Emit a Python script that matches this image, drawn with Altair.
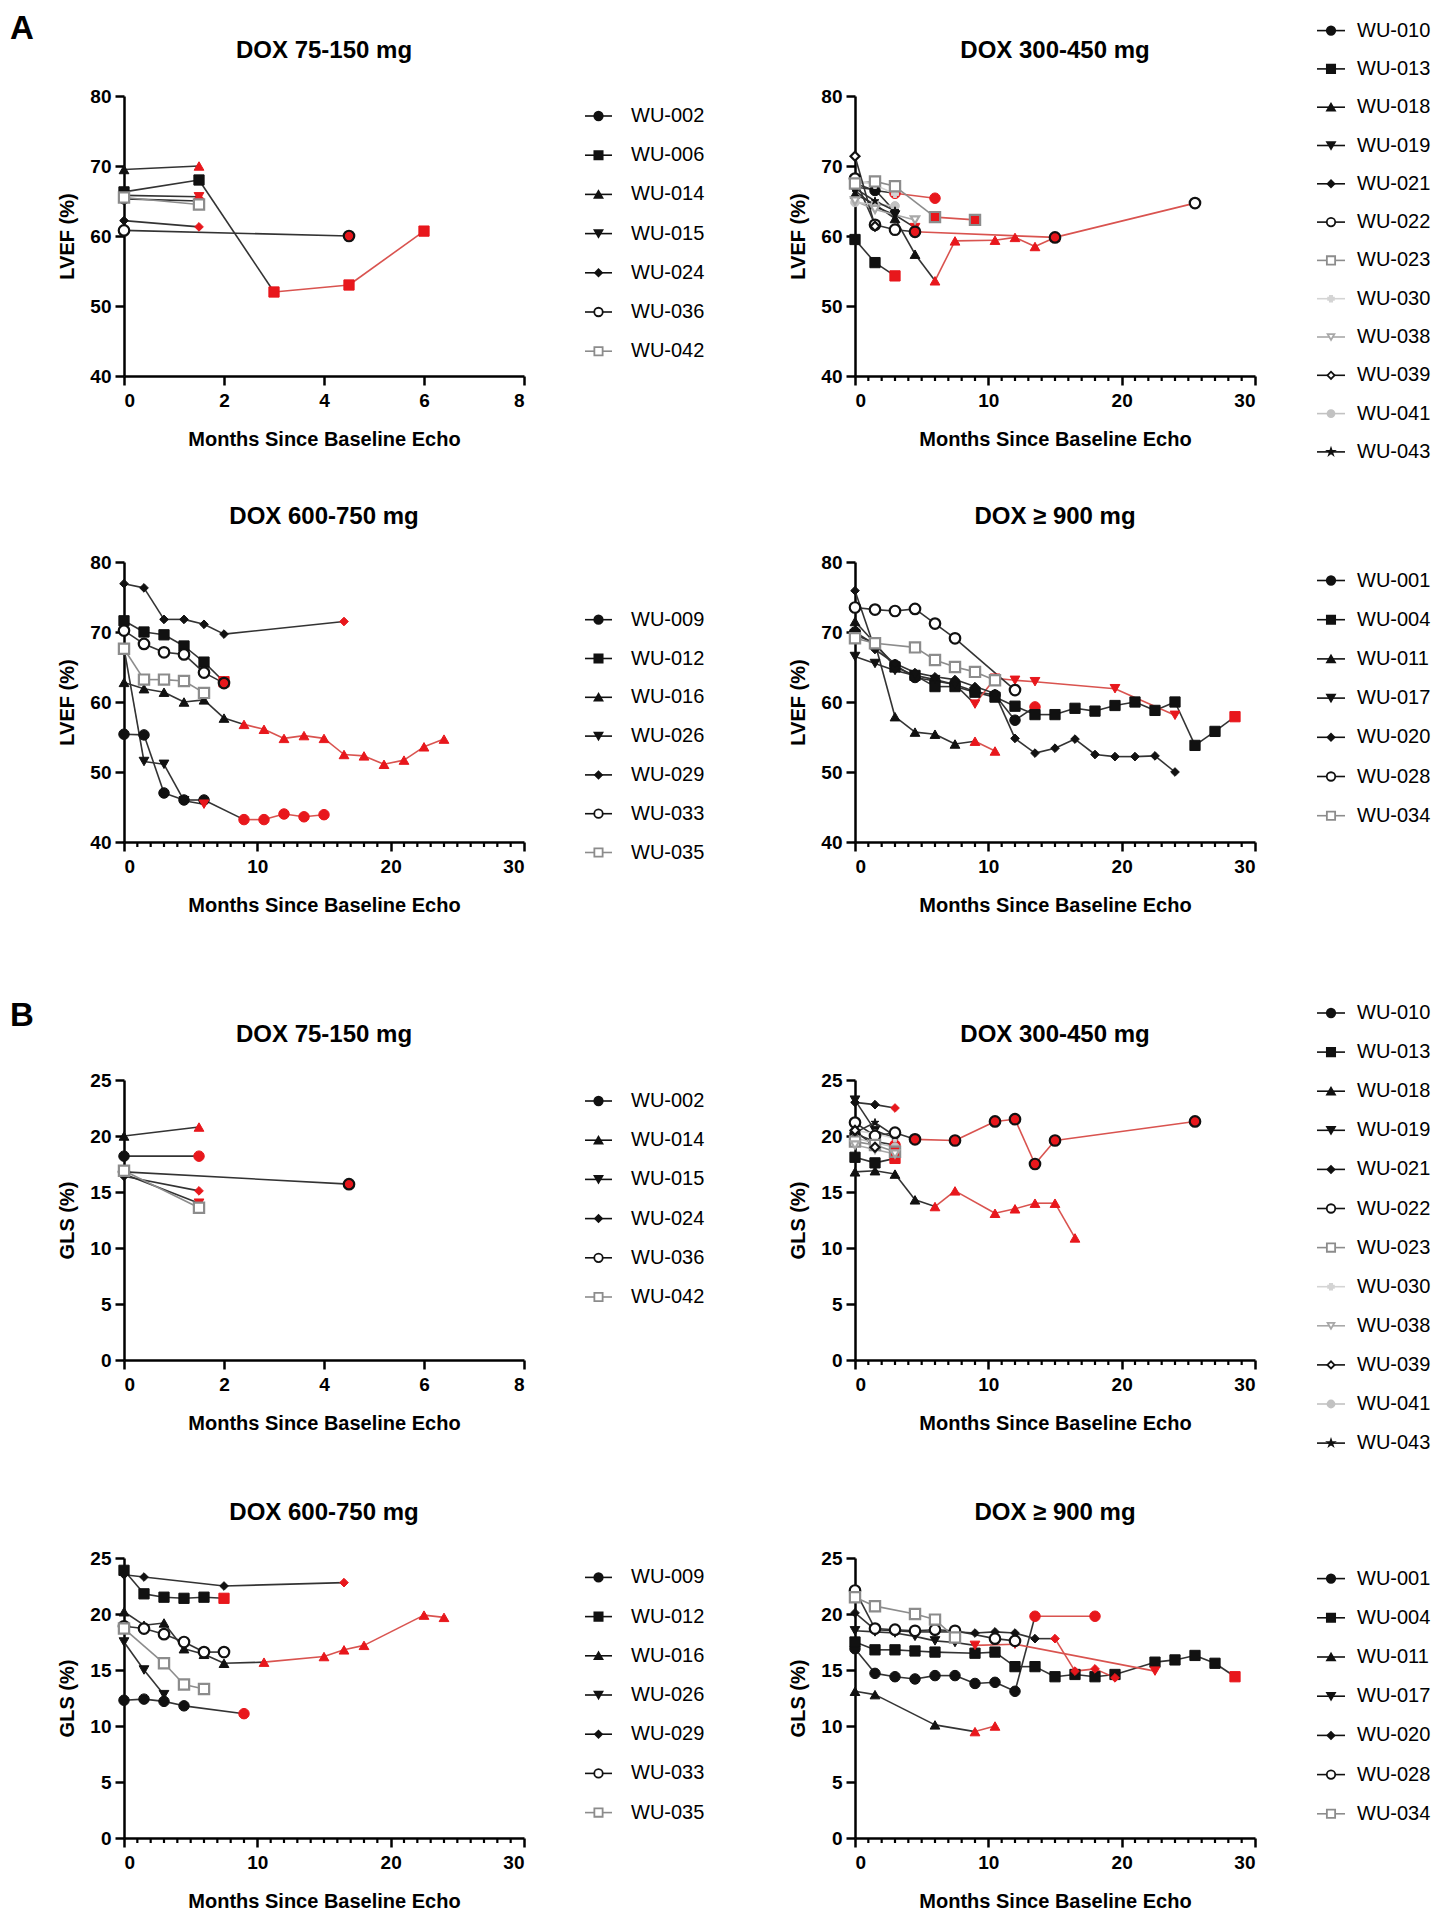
import altair as alt
import pandas as pd

FONT = "Liberation Sans"
RED = "#e8171c"
RED_LINE = "#d9534f"
W, H = 400, 280
STAR_PATH = ("M0,-1L0.225,-0.309L0.951,-0.309L0.363,0.118L0.588,0.809L0,0.382"
             "L-0.588,0.809L-0.363,0.118L-0.951,-0.309L-0.225,-0.309Z")

# ---------------- data: subject -> (months, value, after-toxicity flag) ----------------
A1_LVEF = {
    "WU-002": ([0, 1.5], [65.3, 65.0], [0, 1]),
    "WU-006": ([0, 1.5, 3, 4.5, 6], [66.3, 68.0, 52.0, 53.0, 60.7], [0, 0, 1, 1, 1]),
    "WU-014": ([0, 1.5], [69.5, 70.0], [0, 1]),
    "WU-015": ([0, 1.5], [65.8, 65.6], [0, 1]),
    "WU-024": ([0, 1.5], [62.2, 61.3], [0, 1]),
    "WU-036": ([0, 4.5], [60.8, 60.0], [0, 1]),
    "WU-042": ([0, 1.5], [65.5, 64.5], [0, 0]),
}
A2_LVEF = {
    "WU-010": ([0, 1.5, 3, 6], [67.5, 66.5, 66.1, 65.4], [0, 0, 1, 1]),
    "WU-013": ([0, 1.5, 3], [59.5, 56.2, 54.3], [0, 0, 1]),
    "WU-018": ([0, 1.5, 3, 4.5, 6, 7.5, 10.5, 12, 13.5, 15],
               [66.0, 64.5, 62.5, 57.4, 53.6, 59.3, 59.4, 59.8, 58.5, 59.8],
               [0, 0, 0, 0, 1, 1, 1, 1, 1, 1]),
    "WU-019": ([0, 1.5, 3, 4.5], [66.5, 64.2, 63.0, 61.2], [0, 0, 0, 1]),
    "WU-021": ([0, 1.5, 3], [67.0, 66.6, 63.5], [0, 0, 0]),
    "WU-022": ([0, 1.5, 3, 4.5, 15, 25.5], [68.2, 61.6, 60.9, 60.6, 59.8, 64.7], [0, 0, 0, 1, 1, 0]),
    "WU-023": ([0, 1.5, 3, 6, 9], [67.5, 67.8, 67.1, 62.7, 62.3], [0, 0, 0, 1, 1]),
    "WU-030": ([0, 1.5, 3], [68.0, 67.3, 66.0], [0, 0, 0]),
    "WU-038": ([0, 1.5, 4.5], [65.0, 63.8, 62.3], [0, 0, 0]),
    "WU-039": ([0, 1.5], [71.4, 61.4], [0, 0]),
    "WU-041": ([0, 1.5, 3], [64.8, 64.5, 64.3], [0, 0, 0]),
    "WU-043": ([0, 1.5, 3], [66.8, 65.0, 63.6], [0, 0, 0]),
}
A3_LVEF = {
    "WU-009": ([0, 1.5, 3, 4.5, 6, 9, 10.5, 12, 13.5, 15],
               [55.4, 55.3, 47.0, 46.0, 46.0, 43.2, 43.2, 44.0, 43.6, 43.9],
               [0, 0, 0, 0, 0, 1, 1, 1, 1, 1]),
    "WU-012": ([0, 1.5, 3, 4.5, 6, 7.5], [71.6, 70.0, 69.6, 68.0, 65.7, 62.9], [0, 0, 0, 0, 0, 1]),
    "WU-016": ([0, 1.5, 3, 4.5, 6, 7.5, 9, 10.5, 12, 13.5, 15, 16.5, 18, 19.5, 21, 22.5, 24],
               [62.8, 61.9, 61.4, 60.0, 60.3, 57.7, 56.8, 56.1, 54.8, 55.2, 54.8, 52.5, 52.3, 51.1, 51.7, 53.6, 54.7],
               [0, 0, 0, 0, 0, 0, 1, 1, 1, 1, 1, 1, 1, 1, 1, 1, 1]),
    "WU-026": ([0, 1.5, 3, 4.5, 6], [67.7, 51.5, 51.1, 45.9, 45.4], [0, 0, 0, 0, 1]),
    "WU-029": ([0, 1.5, 3, 4.5, 6, 7.5, 16.5], [76.9, 76.3, 71.8, 71.8, 71.1, 69.7, 71.5], [0, 0, 0, 0, 0, 0, 1]),
    "WU-033": ([0, 1.5, 3, 4.5, 6, 7.5], [70.2, 68.3, 67.1, 66.8, 64.2, 62.7], [0, 0, 0, 0, 0, 1]),
    "WU-035": ([0, 1.5, 3, 4.5, 6], [67.6, 63.2, 63.2, 63.0, 61.3], [0, 0, 0, 0, 0]),
}
A4_LVEF = {
    "WU-001": ([0, 1.5, 3, 4.5, 6, 7.5, 9, 10.5, 12, 13.5],
               [70.0, 68.2, 65.3, 63.5, 63.0, 62.5, 61.5, 61.0, 57.4, 59.3],
               [0, 0, 0, 0, 0, 0, 0, 0, 0, 1]),
    "WU-004": ([0, 1.5, 3, 4.5, 6, 7.5, 9, 10.5, 12, 13.5, 15, 16.5, 18, 19.5, 21, 22.5, 24, 25.5, 27, 28.5],
               [69.6, 68.4, 65.0, 63.8, 62.2, 62.2, 61.4, 60.7, 59.4, 58.2, 58.2, 59.1, 58.7, 59.5, 60.0, 58.8, 60.0, 53.8, 55.8, 57.9],
               [0] * 19 + [1]),
    "WU-011": ([0, 1.5, 3, 4.5, 6, 7.5, 9, 10.5], [71.5, 68.4, 57.9, 55.7, 55.4, 54.0, 54.4, 53.0], [0, 0, 0, 0, 0, 0, 1, 1]),
    "WU-017": ([0, 1.5, 3, 4.5, 6, 7.5, 9, 10.5, 12, 13.5, 19.5, 24],
               [66.5, 65.5, 64.5, 63.8, 63.2, 62.5, 59.7, 63.4, 63.1, 62.9, 61.9, 58.1],
               [0, 0, 0, 0, 0, 0, 1, 1, 1, 1, 1, 1]),
    "WU-020": ([0, 1.5, 3, 4.5, 6, 7.5, 9, 10.5, 12, 13.5, 15, 16.5, 18, 19.5, 21, 22.5, 24],
               [75.9, 67.5, 65.5, 64.2, 63.6, 63.2, 62.2, 61.2, 54.8, 52.7, 53.4, 54.7, 52.5, 52.2, 52.2, 52.3, 50.0],
               [0] * 17),
    "WU-028": ([0, 1.5, 3, 4.5, 6, 7.5, 12], [73.5, 73.2, 73.0, 73.3, 71.2, 69.1, 61.7], [0] * 7),
    "WU-034": ([0, 1.5, 4.5, 6, 7.5, 9, 10.5], [69.1, 68.4, 67.8, 66.0, 65.0, 64.3, 63.1], [0] * 7),
}
B1_GLS = {
    "WU-002": ([0, 1.5], [18.2, 18.2], [0, 1]),
    "WU-014": ([0, 1.5], [20.0, 20.8], [0, 1]),
    "WU-015": ([0, 1.5], [16.6, 14.0], [0, 1]),
    "WU-024": ([0, 1.5], [16.4, 15.1], [0, 1]),
    "WU-036": ([0, 4.5], [16.8, 15.7], [0, 1]),
    "WU-042": ([0, 1.5], [16.9, 13.6], [0, 0]),
}
B2_GLS = {
    "WU-010": ([0, 1.5, 3], [20.2, 19.5, 19.2], [0, 0, 1]),
    "WU-013": ([0, 1.5, 3], [18.1, 17.6, 18.0], [0, 0, 1]),
    "WU-018": ([0, 1.5, 3, 4.5, 6, 7.5, 10.5, 12, 13.5, 15, 16.5],
               [16.8, 16.9, 16.6, 14.3, 13.7, 15.1, 13.1, 13.5, 14.0, 14.0, 10.9],
               [0, 0, 0, 0, 1, 1, 1, 1, 1, 1, 1]),
    "WU-019": ([0, 1.5, 3], [23.2, 20.5, 19.8], [0, 0, 0]),
    "WU-021": ([0, 1.5, 3], [23.0, 22.8, 22.5], [0, 0, 1]),
    "WU-022": ([0, 1.5, 3, 4.5, 7.5, 10.5, 12, 13.5, 15, 25.5],
               [21.2, 20.0, 20.3, 19.7, 19.6, 21.3, 21.5, 17.5, 19.6, 21.3],
               [0, 0, 0, 1, 1, 1, 1, 1, 1, 1]),
    "WU-023": ([0, 1.5, 3], [19.5, 19.2, 18.6], [0, 0, 1]),
    "WU-030": ([0, 1.5, 3], [20.5, 20.2, 19.8], [0, 0, 0]),
    "WU-038": ([0, 1.5, 3], [19.2, 18.8, 18.4], [0, 0, 0]),
    "WU-039": ([0, 1.5], [20.5, 19.0], [0, 0]),
    "WU-041": ([0, 1.5, 3], [19.8, 19.4, 19.0], [0, 0, 0]),
    "WU-043": ([0, 1.5, 3], [20.3, 21.2, 20.0], [0, 0, 0]),
}
B3_GLS = {
    "WU-009": ([0, 1.5, 3, 4.5, 9], [12.3, 12.4, 12.2, 11.8, 11.1], [0, 0, 0, 0, 1]),
    "WU-012": ([0, 1.5, 3, 4.5, 6, 7.5], [23.9, 21.8, 21.5, 21.4, 21.5, 21.4], [0, 0, 0, 0, 0, 1]),
    "WU-016": ([0, 1.5, 3, 4.5, 6, 7.5, 10.5, 15, 16.5, 18, 22.5, 24],
               [20.2, 19.0, 19.2, 16.9, 16.4, 15.6, 15.7, 16.2, 16.8, 17.2, 19.9, 19.7],
               [0, 0, 0, 0, 0, 0, 1, 1, 1, 1, 1, 1]),
    "WU-026": ([0, 1.5, 3], [17.5, 15.0, 12.8], [0, 0, 0]),
    "WU-029": ([0, 1.5, 7.5, 16.5], [23.5, 23.3, 22.5, 22.8], [0, 0, 0, 1]),
    "WU-033": ([0, 1.5, 3, 4.5, 6, 7.5], [18.9, 18.7, 18.2, 17.5, 16.6, 16.6], [0] * 6),
    "WU-035": ([0, 3, 4.5, 6], [18.7, 15.6, 13.7, 13.3], [0] * 4),
}
B4_GLS = {
    "WU-001": ([0, 1.5, 3, 4.5, 6, 7.5, 9, 10.5, 12, 13.5, 18],
               [16.9, 14.7, 14.4, 14.2, 14.5, 14.5, 13.8, 13.9, 13.1, 19.8, 19.8],
               [0, 0, 0, 0, 0, 0, 0, 0, 0, 1, 1]),
    "WU-004": ([0, 1.5, 3, 4.5, 6, 9, 10.5, 12, 13.5, 15, 16.5, 18, 19.5, 22.5, 24, 25.5, 27, 28.5],
               [17.5, 16.8, 16.8, 16.7, 16.6, 16.5, 16.6, 15.3, 15.3, 14.4, 14.6, 14.4, 14.6, 15.7, 15.9, 16.3, 15.6, 14.4],
               [0] * 17 + [1]),
    "WU-011": ([0, 1.5, 6, 9, 10.5], [13.1, 12.8, 10.1, 9.5, 10.0], [0, 0, 0, 1, 1]),
    "WU-017": ([0, 1.5, 3, 4.5, 6, 7.5, 9, 12, 22.5],
               [18.5, 18.4, 18.3, 18.0, 17.6, 17.45, 17.2, 17.3, 14.9],
               [0, 0, 0, 0, 0, 0, 1, 1, 1]),
    "WU-020": ([0, 1.5, 3, 4.5, 6, 7.5, 9, 10.5, 12, 13.5, 15, 16.5, 18, 19.5],
               [20.1, 18.6, 18.5, 18.4, 18.4, 18.4, 18.3, 18.4, 18.3, 17.8, 17.8, 14.9, 15.1, 14.3],
               [0] * 10 + [1] * 4),
    "WU-028": ([0, 1.5, 3, 4.5, 6, 7.5, 10.5, 12], [22.1, 18.7, 18.6, 18.5, 18.6, 18.5, 17.8, 17.6], [0] * 8),
    "WU-034": ([0, 1.5, 4.5, 6, 7.5], [21.5, 20.7, 20.0, 19.5, 17.9], [0] * 5),
}

SUBJECT_STYLE = {
    "WU-002": "circle", "WU-006": "square", "WU-014": "tri_up", "WU-015": "tri_down",
    "WU-024": "diamond", "WU-036": "open_circle", "WU-042": "open_square_gray",
    "WU-010": "circle", "WU-013": "square", "WU-018": "tri_up", "WU-019": "tri_down",
    "WU-021": "diamond", "WU-022": "open_circle", "WU-023": "open_square_gray",
    "WU-030": "cross_light", "WU-038": "open_tri_down_gray", "WU-039": "open_diamond",
    "WU-041": "circle_light", "WU-043": "star",
    "WU-009": "circle", "WU-012": "square", "WU-016": "tri_up", "WU-026": "tri_down",
    "WU-029": "diamond", "WU-033": "open_circle", "WU-035": "open_square_gray",
    "WU-001": "circle", "WU-004": "square", "WU-011": "tri_up", "WU-017": "tri_down",
    "WU-020": "diamond", "WU-028": "open_circle", "WU-034": "open_square_gray",
}
# shape, open?, colour, size
STYLES = {
    "circle": ("circle", False, "#111111", 110),
    "square": ("square", False, "#111111", 105),
    "tri_up": ("triangle-up", False, "#111111", 95),
    "tri_down": ("triangle-down", False, "#111111", 95),
    "diamond": ("diamond", False, "#111111", 75),
    "open_circle": ("circle", True, "#111111", 110),
    "open_square_gray": ("square", True, "#8c8c8c", 105),
    "cross_light": ("cross", False, "#d4d4d4", 50),
    "open_tri_down_gray": ("triangle-down", True, "#a8a8a8", 70),
    "open_diamond": ("diamond", True, "#111111", 80),
    "circle_light": ("circle", False, "#c2c2c2", 75),
    "star": (STAR_PATH, False, "#111111", 65),
}

X_TITLE = "Months Since Baseline Echo"
MINOR_30 = [v for v in range(1, 30) if v % 10]


def const_df(**kw):
    return pd.DataFrame({k: [v] for k, v in kw.items()})


def point_layer(df, xenc, yenc, sw):
    return alt.Chart(df).mark_point(filled=True, opacity=1, strokeWidth=sw).encode(
        x=xenc, y=yenc,
        shape=alt.Shape("shape:N", scale=None),
        fill=alt.Fill("fill:N", scale=None),
        stroke=alt.Stroke("stroke:N", scale=None),
        size=alt.Size("size:Q", scale=None))


def cell(data, title, xmax, xvals, ydom, yvals, ytitle, minor, leg, frame, letter=None):
    seg, pts_f, pts_o = [], [], []
    sid = 0
    for name, (xs, ys, rs) in data.items():
        shape, is_open, col, size = STYLES[SUBJECT_STYLE[name]]
        lcol = "#333333" if col == "#111111" else col
        for i in range(len(xs) - 1):
            c = RED_LINE if rs[i] else lcol
            seg.append({"x": xs[i], "y": ys[i], "sid": sid, "c": c})
            seg.append({"x": xs[i + 1], "y": ys[i + 1], "sid": sid, "c": c})
            sid += 1
        for xv, yv, r in zip(xs, ys, rs):
            if r:
                fill, stroke = RED, (col if is_open else RED)
            else:
                fill, stroke = ("white" if is_open else col), col
            row = {"x": xv, "y": yv, "shape": shape, "fill": fill, "stroke": stroke, "size": size}
            (pts_o if is_open else pts_f).append(row)
    X = alt.X("x:Q", scale=alt.Scale(domain=[0, xmax], nice=False, zero=False),
              axis=alt.Axis(values=xvals, title=X_TITLE, format="d"))
    Y = alt.Y("y:Q", scale=alt.Scale(domain=ydom, nice=False, zero=False),
              axis=alt.Axis(values=yvals, title=ytitle, format="d"))
    plot_layers = [
        alt.Chart(pd.DataFrame(seg)).mark_line(strokeWidth=1.6).encode(
            x=X, y=Y, detail="sid:N", color=alt.Color("c:N", scale=None))
    ]
    if minor:
        plot_layers.append(
            alt.Chart(pd.DataFrame({"x": minor})).mark_rule(color="black", strokeWidth=2.2).encode(
                x=X, y=alt.value(H), y2=alt.value(H + 5)))
    plot_layers.append(point_layer(pd.DataFrame(pts_f), X, Y, 1))
    if pts_o:
        plot_layers.append(point_layer(pd.DataFrame(pts_o), X, Y, 2.2))
    plot = alt.layer(*plot_layers)

    # legend (own y scale on the negated entry index)
    off, step, pos = leg
    rows = []
    for i, name in enumerate(data.keys()):
        shape, is_open, col, size = STYLES[SUBJECT_STYLE[name]]
        rows.append({"ly": -i, "name": name, "shape": shape, "fill": "white" if is_open else col,
                     "stroke": col, "size": size * 0.65})
    lo = -off / step
    hi = lo + H / step
    LY = alt.Y("ly:Q", scale=alt.Scale(domain=[-hi, -lo], nice=False, zero=False), axis=None)
    base = alt.Chart(pd.DataFrame(rows))
    leg_layer = alt.layer(
        base.mark_rule(strokeWidth=1.6).encode(
            y=LY, x=alt.value(pos[0]), x2=alt.value(pos[1]), color=alt.Color("stroke:N", scale=None)),
        base.mark_point(filled=True, opacity=1, strokeWidth=1.8).encode(
            y=LY, x=alt.value(pos[2]),
            shape=alt.Shape("shape:N", scale=None), fill=alt.Fill("fill:N", scale=None),
            stroke=alt.Stroke("stroke:N", scale=None), size=alt.Size("size:Q", scale=None)),
        base.mark_text(align="left", baseline="middle", font=FONT, fontSize=20, color="black").encode(
            y=LY, x=alt.value(pos[3]), text="name:N"),
    )

    # invisible frame fixing the cell's extent for the concat layout
    frame_rect = alt.Chart(const_df(v=0)).mark_rect(opacity=0).encode(
        x=alt.value(frame[0]), x2=alt.value(frame[1]), y=alt.value(frame[2]), y2=alt.value(frame[3]))
    title_txt = alt.Chart(const_df(t=title)).mark_text(
        align="center", baseline="middle", font=FONT, fontSize=24, fontWeight="bold", color="black"
    ).encode(x=alt.value(W / 2), y=alt.value(-45), text="t:N")
    layers = [frame_rect, plot, leg_layer, title_txt]
    if letter:
        layers.append(alt.Chart(const_df(t=letter[0])).mark_text(
            align="center", baseline="top", font=FONT, fontSize=33, fontWeight="bold", color="black"
        ).encode(x=alt.value(letter[1]), y=alt.value(letter[2]), text="t:N"))
    return alt.layer(*layers).resolve_scale(y="independent").properties(width=W, height=H)


LPOS = (461, 488, 474.5, 507)
RPOS = (462, 490, 476, 502)
LVEF_Y = ([40, 80], [40, 50, 60, 70, 80], "LVEF (%)")
GLS_Y = ([0, 25], [0, 5, 10, 15, 20, 25], "GLS (%)")
X8 = (8, [0, 2, 4, 6, 8], None)
X30 = (30, [0, 10, 20, 30], MINOR_30)


def make(data, title, xs, ys, leg, frame, letter=None):
    return cell(data, title, xs[0], xs[1], ys[0], ys[1], ys[2], xs[2], leg, frame, letter)


row1 = alt.hconcat(
    make(A1_LVEF, "DOX 75-150 mg", X8, LVEF_Y, (20, 39.2, LPOS), (-114, 617, -86, 380), ("A", -102, -83)),
    make(A2_LVEF, "DOX 300-450 mg", X30, LVEF_Y, (-65.4, 38.3, RPOS), (-114, 590, -86, 380)),
    spacing=0)
row2 = alt.hconcat(
    make(A3_LVEF, "DOX 600-750 mg", X30, LVEF_Y, (57.7, 38.8, LPOS), (-114, 617, -86, 432)),
    make(A4_LVEF, "DOX \u2265 900 mg", X30, LVEF_Y, (18.5, 39.2, RPOS), (-114, 590, -86, 432)),
    spacing=0)
row3 = alt.hconcat(
    make(B1_GLS, "DOX 75-150 mg", X8, GLS_Y, (21, 39.2, LPOS), (-114, 617, -86, 392), ("B", -102, -80)),
    make(B2_GLS, "DOX 300-450 mg", X30, GLS_Y, (-67, 39.1, RPOS), (-114, 590, -86, 392)),
    spacing=0)
row4 = alt.hconcat(
    make(B3_GLS, "DOX 600-750 mg", X30, GLS_Y, (19.4, 39.2, LPOS), (-114, 617, -86, 360)),
    make(B4_GLS, "DOX \u2265 900 mg", X30, GLS_Y, (20.6, 39.2, RPOS), (-114, 590, -86, 360)),
    spacing=0)

chart = alt.vconcat(row1, row2, row3, row4, spacing=0).properties(padding=2).configure_view(
    strokeWidth=0
).configure_axis(
    domainColor="black", domainWidth=2.5, tickColor="black", tickWidth=2.5, tickSize=9,
    labelFont=FONT, labelFontSize=19, labelFontWeight="bold", labelColor="black", labelPadding=4,
    titleFont=FONT, titleFontSize=20, titleFontWeight="bold", titleColor="black", grid=False,
).configure_axisX(titlePadding=19, labelPadding=6).configure_axisY(titlePadding=12)

chart.save("out.html", embed_options={"renderer": "svg", "actions": False})
